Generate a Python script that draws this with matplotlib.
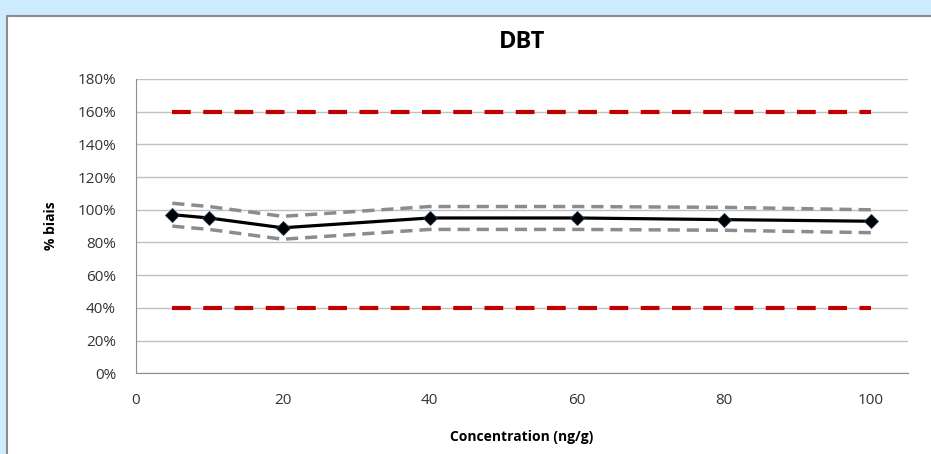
import matplotlib
matplotlib.use('Agg')
import matplotlib.pyplot as plt
from matplotlib.patches import Rectangle
from matplotlib.ticker import FuncFormatter

# Données
concentration = [5, 10, 20, 40, 60, 80, 100]
biais = [97, 95, 89, 95, 95, 94, 93]
biais_haut = [104, 102, 96, 102, 102, 101.5, 100]
biais_bas = [90, 88, 82, 88, 88, 87.5, 86]
limites_x = [5, 100]
limite_basse = [40, 40]
limite_haute = [160, 160]

plt.rcParams['font.family'] = ['Open Sans', 'DejaVu Sans']

fig = plt.figure(figsize=(9.31, 4.54), dpi=100)
fig.patch.set_facecolor('#CDEAFE')

# Zone blanche du graphique avec bordure grise
W, H = 931, 454
fig.add_artist(Rectangle((7 / W, -0.05), 1.0, (H - 16) / H + 0.05, transform=fig.transFigure,
                         facecolor='white', edgecolor='#8C8C8C', linewidth=1.5, zorder=0))

ax = fig.add_axes([135.5 / W, (H - 373.3) / H, (907.7 - 135.5) / W, (373.3 - 79) / H])
ax.set_facecolor('white')
ax.patch.set_alpha(0)

# Limites rouges
ax.plot(limites_x, limite_haute, color='#C00000', linewidth=3, dashes=(4.5, 3), zorder=3)
ax.plot(limites_x, limite_basse, color='#C00000', linewidth=3, dashes=(4.5, 3), zorder=3)

# Intervalle
ax.plot(concentration, biais_haut, color='#8C8C8C', linewidth=2.5, dashes=(3.5, 2), zorder=3)
ax.plot(concentration, biais_bas, color='#8C8C8C', linewidth=2.5, dashes=(3.5, 2), zorder=3)

# Série principale
ax.plot(concentration, biais, color='black', linewidth=2.3, marker='D', markersize=7,
        markerfacecolor='black', markeredgecolor='#1F3A5F', markeredgewidth=0.6, zorder=4)

ax.set_xlim(0, 105)
ax.set_ylim(0, 180)
ax.set_yticks(range(0, 181, 20))
ax.set_xticks(range(0, 101, 20))
ax.yaxis.set_major_formatter(FuncFormatter(lambda v, p: f'{int(v)}%'))
ax.grid(axis='y', color='#C0C0C0', linewidth=1)
ax.set_axisbelow(True)
for s in ['top', 'right']:
    ax.spines[s].set_visible(False)
ax.spines['left'].set_color('#8C8C8C')
ax.spines['bottom'].set_color('#8C8C8C')
ax.tick_params(length=0, labelsize=11, colors='#333333')
ax.tick_params(axis='y', pad=14)
ax.tick_params(axis='x', pad=14)

ax.set_title('DBT', fontsize=17, fontweight='bold', pad=22)
ax.set_xlabel('Concentration (ng/g)', fontsize=10, fontweight='bold', labelpad=16)
ax.set_ylabel('% biais', fontsize=10, fontweight='bold', labelpad=14)

plt.savefig('out.png', dpi=100, facecolor=fig.get_facecolor())
plt.close()
